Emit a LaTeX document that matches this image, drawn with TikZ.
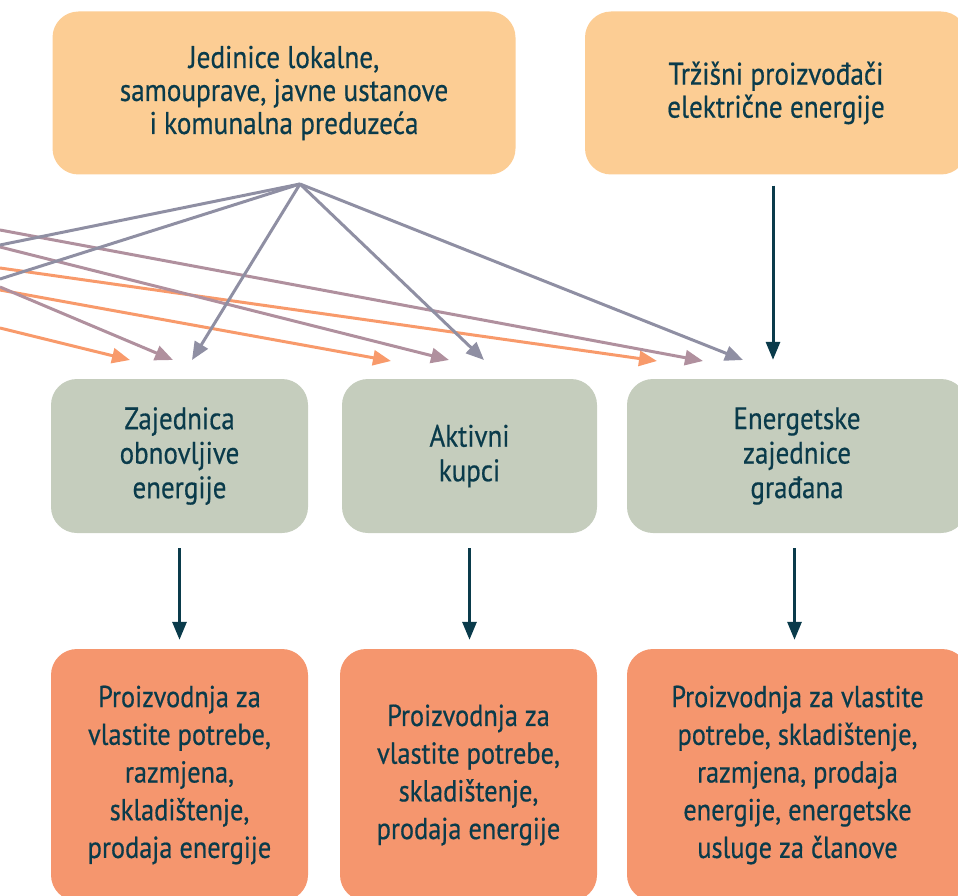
\documentclass[tikz,border=0pt]{standalone}
\usepackage{fontspec}
\setmainfont[FakeStretch=0.87, FakeBold=0.5]{PT Sans}
\usetikzlibrary{arrows.meta}
\definecolor{peach}{HTML}{FCCD94}
\definecolor{sage}{HTML}{C5CDBD}
\definecolor{salmon}{HTML}{F5966E}
\definecolor{lgray}{HTML}{8F8FA3}
\definecolor{mauve}{HTML}{B0909E}
\definecolor{lorange}{HTML}{F89A6B}
\definecolor{dteal}{HTML}{0A3B4B}
\tikzset{
  box/.style={rounded corners=26pt, align=center, text=dteal, inner sep=0pt},
  topbox/.style={box, fill=peach, minimum height=163pt, font=\fontsize{31.3}{33}\selectfont},
  midbox/.style={box, fill=sage, minimum height=154pt, font=\fontsize{31}{34.5}\selectfont},
  botbox/.style={box, fill=salmon, minimum height=252pt, font=\fontsize{30.3}{37.7}\selectfont},
  darrow/.style={draw=dteal, line width=3pt, -{Triangle[length=18pt,width=14pt]}},
  garrow/.style={draw=lgray, line width=3pt, -{Triangle[length=18pt,width=15pt]}},
  marrow/.style={draw=mauve, line width=3pt, -{Triangle[length=18pt,width=15pt]}},
  oarrow/.style={draw=lorange, line width=3pt, -{Triangle[length=18pt,width=15pt]}},
  gline/.style={draw=lgray, line width=3pt},
}
\begin{document}
\begin{tikzpicture}[x=1pt,y=-1pt]
\useasboundingbox (0,0) rectangle (958,896);
\clip (0,0) rectangle (958,896);
% boxes
\node[topbox, minimum width=463pt] (T1) at (284,93) {Jedinice lokalne,\\samouprave, javne ustanove\\i komunalna preduzeća};
\node[topbox, minimum width=382pt] (T2) at (776,93) {Tržišni proizvođači\\električne energije};
\node[midbox, minimum width=257pt] (M1) at (179.5,456) {Zajednica\\obnovljive\\energije};
\node[midbox, minimum width=255pt] (M2) at (469.5,456) {Aktivni\\kupci};
\node[midbox, minimum width=340pt] (M3) at (797,456) {Energetske\\zajednice\\građana};
\node[botbox, minimum width=257pt] (B1) at (179.5,775) {Proizvodnja za\\vlastite potrebe,\\razmjena,\\skladištenje,\\prodaja energije};
\node[botbox, minimum width=257pt] (B2) at (468.5,775) {Proizvodnja za\\vlastite potrebe,\\skladištenje,\\prodaja energije};
\node[botbox, minimum width=341pt] (B3) at (797.5,775) {Proizvodnja za vlastite\\potrebe, skladištenje,\\razmjena, prodaja\\energije, energetske\\usluge za članove};
% named end points
\coordinate (apex) at (300,184);
\coordinate (gL1) at (0,245);
\coordinate (gL2) at (0,279);
\coordinate (g1) at (192,360);
\coordinate (g2) at (484,360);
\coordinate (g3) at (743,360);
\coordinate (mS1) at (0,287);
\coordinate (mS2) at (0,247);
\coordinate (mS3) at (0,230);
\coordinate (m1) at (173,360);
\coordinate (m2) at (449,360);
\coordinate (m3) at (703,361);
\coordinate (oS1) at (0,328);
\coordinate (oS2) at (0,290);
\coordinate (oS3) at (0,268);
\coordinate (o1) at (130,360);
\coordinate (o2) at (391,361);
\coordinate (o3) at (657,361);
% colored connectors
\draw[oarrow] (oS1) -- (o1);
\draw[oarrow] (oS2) -- (o2);
\draw[oarrow] (oS3) -- (o3);
\draw[marrow] (mS1) -- (m1);
\draw[marrow] (mS2) -- (m2);
\draw[marrow] (mS3) -- (m3);
\draw[gline] (apex) -- (gL1);
\draw[gline] (apex) -- (gL2);
\draw[garrow] (apex) -- (g1);
\draw[garrow] (apex) -- (g2);
\draw[garrow] (apex) -- (g3);
% dark arrows
\draw[darrow, shorten <=11pt, shorten >=19pt] ([xshift=-3pt]T2.south) -- ([xshift=-3pt]T2.south |- M3.north);
\draw[darrow, shorten <=15pt, shorten >=9pt] (M1.south) -- (B1.north);
\draw[darrow, shorten <=15pt, shorten >=9pt] (M2.south) -- (M2.south |- B2.north);
\draw[darrow, shorten <=15pt, shorten >=9pt] ([xshift=-2.5pt]M3.south) -- ([xshift=-2.5pt]M3.south |- B3.north);
\end{tikzpicture}
\end{document}
